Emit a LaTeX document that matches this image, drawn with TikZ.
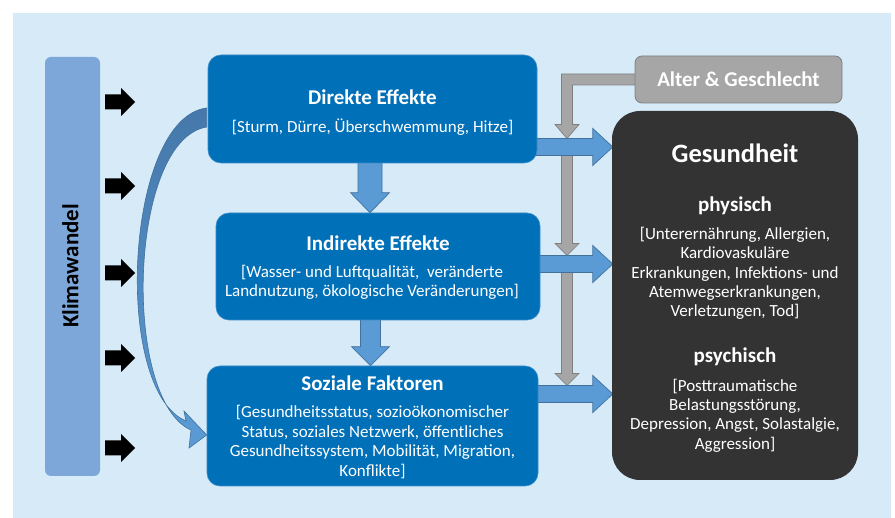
\documentclass[tikz,border=0pt]{standalone}
\usepackage{fontspec}
\setmainfont{Carlito}
\usetikzlibrary{calc}
\definecolor{bgblue}{RGB}{214,234,248}
\definecolor{boxblue}{RGB}{0,112,184}
\definecolor{boxedge}{RGB}{60,140,200}
\definecolor{barblue}{RGB}{124,167,216}
\definecolor{arrblue}{RGB}{91,155,213}
\definecolor{arrbord}{RGB}{65,113,156}
\definecolor{curvetop}{RGB}{70,120,170}
\definecolor{grayfill}{RGB}{166,166,166}
\definecolor{grayline}{RGB}{127,127,127}
\definecolor{darkbox}{RGB}{51,51,51}
\pgfdeclarelayer{backdrop}
\pgfdeclarelayer{arrows}
\pgfsetlayers{backdrop,arrows,main}
\newcommand\rightblock[6]{% style, start, tip, shaft half, head half, head length
  \draw[#1] ($(#2)+(0,-#4)$) -- ($(#3)+(-#6,-#4)$) -- ($(#3)+(-#6,-#5)$) -- (#3)
    -- ($(#3)+(-#6,#5)$) -- ($(#3)+(-#6,#4)$) -- ($(#2)+(0,#4)$) -- cycle;}
\newcommand\downblock[6]{% style, start, tip, shaft half, head half, head length
  \draw[#1] ($(#2)+(-#4,0)$) -- ($(#3)+(-#4,-#6)$) -- ($(#3)+(-#5,-#6)$) -- (#3)
    -- ($(#3)+(#5,-#6)$) -- ($(#3)+(#4,-#6)$) -- ($(#2)+(#4,0)$) -- cycle;}
\begin{document}
\begin{tikzpicture}[x=1pt,y=-1pt,
  bluebox/.style={draw=boxedge, line width=0.6pt, fill=boxblue, rounded corners=13pt, inner sep=0pt},
  titletext/.style={text=white, font=\fontsize{21}{24}\selectfont\bfseries, inner sep=0pt},
  bodytext/.style={text=white, font=\fontsize{17}{19.4}\selectfont, align=center, inner sep=0pt},
  bluearr/.style={fill=arrblue, draw=arrbord, line width=0.7pt, line join=miter},
  grayarr/.style={fill=grayfill, draw=grayline, line width=0.7pt, line join=miter},
  blackarr/.style={fill=black, draw=none}]
\useasboundingbox (0,0) rectangle (895,518);
\begin{pgfonlayer}{backdrop}
\fill[white] (0,0) rectangle (895,518);
\fill[bgblue] (13,13) rectangle (891,518);
\end{pgfonlayer}

% nodes
\node[fill=barblue, rounded corners=6pt, minimum width=55pt, minimum height=419pt, inner sep=0pt] (klima) at (72.5,266.5) {};
\node[rotate=90, font=\fontsize{23}{26}\selectfont\bfseries, inner sep=0pt] (klimat) at (70.5,266) {Klimawandel};

\node[bluebox, minimum width=329pt, minimum height=108pt] (direkt) at (372.5,109) {};
\node[bluebox, minimum width=324pt, minimum height=107pt] (indirekt) at (378,266.5) {};
\node[bluebox, minimum width=331pt, minimum height=120pt] (sozial) at (372.5,426) {};
\node[fill=darkbox, rounded corners=28pt, minimum width=246pt, minimum height=369pt, inner sep=0pt] (gesund) at (735,295.5) {};
\node[fill=grayfill, draw=grayline, line width=0.8pt, rounded corners=7pt, minimum width=207pt, minimum height=47pt, inner sep=0pt] (alter) at (738.5,79.5) {};

\node[titletext] (dtitle) at (372.5,97) {Direkte Effekte};
\node[bodytext] (dbody) at (372.5,127) {[Sturm, Dürre, Überschwemmung, Hitze]};
\node[titletext] (ititle) at (378,243) {Indirekte Effekte};
\node[bodytext] (ibody) at (372,282.5) {[Wasser- und Luftqualität,\ \ veränderte\\Landnutzung, ökologische Veränderungen]};
\node[titletext] (stitle) at (372.5,383) {Soziale Faktoren};
\node[bodytext] (sbody) at (372.5,442) {[Gesundheitsstatus, sozioökonomischer\\Status, soziales Netzwerk, öffentliches\\Gesundheitssystem, Mobilität, Migration,\\Konflikte]};

\node[text=white, font=\fontsize{26.5}{30}\selectfont\bfseries, inner sep=0pt] (gtitle) at (735,153) {Gesundheit};
\node[titletext] (phys) at (735,206) {physisch};
\node[bodytext] (pbody) at (735,273.5) {[Unterernährung, Allergien,\\Kardiovaskuläre\\Erkrankungen, Infektions- und\\Atemwegserkrankungen,\\Verletzungen, Tod]};
\node[titletext] (psych) at (735,357) {psychisch};
\node[bodytext] (qbody) at (735,415.5) {[Posttraumatische\\Belastungsstörung,\\Depression, Angst, Solastalgie,\\Aggression]};
\node[titletext] (atext) at (738.5,79.5) {Alter \& Geschlecht};

% connector coordinates
\coordinate (h1) at (0,147);
\coordinate (h2) at (0,264);
\coordinate (h3) at (0,394);
\coordinate (v1) at (370,0);
\coordinate (v2) at (370.5,0);
\coordinate (gx) at (567,0);
\coordinate (a1s) at ($(direkt.east |- h1)+(-3,0)$);
\coordinate (a1t) at ($(gesund.west |- h1)+(1,0)$);
\coordinate (a2s) at ($(indirekt.east |- h2)+(-3,0)$);
\coordinate (a2t) at ($(gesund.west |- h2)+(1,0)$);
\coordinate (a3s) at ($(sozial.east |- h3)+(-3,0)$);
\coordinate (a3t) at ($(gesund.west |- h3)+(1,0)$);
\coordinate (d1s) at ($(direkt.south -| v1)+(0,-2)$);
\coordinate (d1t) at (indirekt.north -| v1);
\coordinate (d2s) at ($(indirekt.south -| v2)+(0,-2)$);
\coordinate (d2t) at (sozial.north -| v2);
\coordinate (gcorner) at (alter.west -| gx);
\coordinate (g1t) at ($(gx |- h1)+(0,-8.5)$);
\coordinate (g2s) at ($(gx |- h1)+(0,8.5)$);
\coordinate (g2t) at ($(gx |- h2)+(0,-8.5)$);
\coordinate (g3s) at ($(gx |- h2)+(0,8.5)$);
\coordinate (g3t) at ($(gx |- h3)+(0,-8.5)$);

\begin{pgfonlayer}{arrows}
% gray arrows (Alter & Geschlecht)
\draw[grayarr] ($(alter.west)+(2,-5.5)$) -- ($(gcorner)+(-5.5,-5.5)$) -- ($(g1t)+(-5.5,-14)$) -- ($(g1t)+(-12,-14)$) -- (g1t)
  -- ($(g1t)+(12,-14)$) -- ($(g1t)+(5.5,-14)$) -- ($(gcorner)+(5.5,5.5)$) -- ($(alter.west)+(2,5.5)$) -- cycle;
\downblock{grayarr}{g2s}{g2t}{5.5}{12}{12}
\downblock{grayarr}{g3s}{g3t}{5.5}{12}{12}
% blue arrows to Gesundheit
\rightblock{bluearr}{a1s}{a1t}{8.5}{18.5}{20}
\rightblock{bluearr}{a2s}{a2t}{8.5}{18.5}{20}
\rightblock{bluearr}{a3s}{a3t}{8.5}{18.5}{20}
% down arrows
\downblock{bluearr}{d1s}{d1t}{12}{19.5}{20}
\downblock{bluearr}{d2s}{d2t}{10}{19}{19}
% curved arrow from direct effects to social factors
\draw[top color=curvetop, bottom color=arrblue, draw=arrbord, line width=0.6pt, line join=miter]
  ($(direkt.west)+(-1,-1)$) .. controls (125,118) and (112,390) .. (186,421)
  -- (184,411) -- ($(sozial.west)+(0,9)$) -- (189,448) -- (191,430)
  .. controls (122,400) and (128,140) .. ($(direkt.west)+(-1,18)$) -- cycle;
\end{pgfonlayer}

% black arrows from Klimawandel
\foreach \yy [count=\i] in {102,186,273,358,448}{
  \coordinate (k\i s) at ($(klima.east |- 0,\yy)+(5,0)$);
  \coordinate (k\i t) at ($(klima.east |- 0,\yy)+(35,0)$);
  \rightblock{blackarr}{k\i s}{k\i t}{7.5}{14}{14}
}
\end{tikzpicture}
\end{document}
